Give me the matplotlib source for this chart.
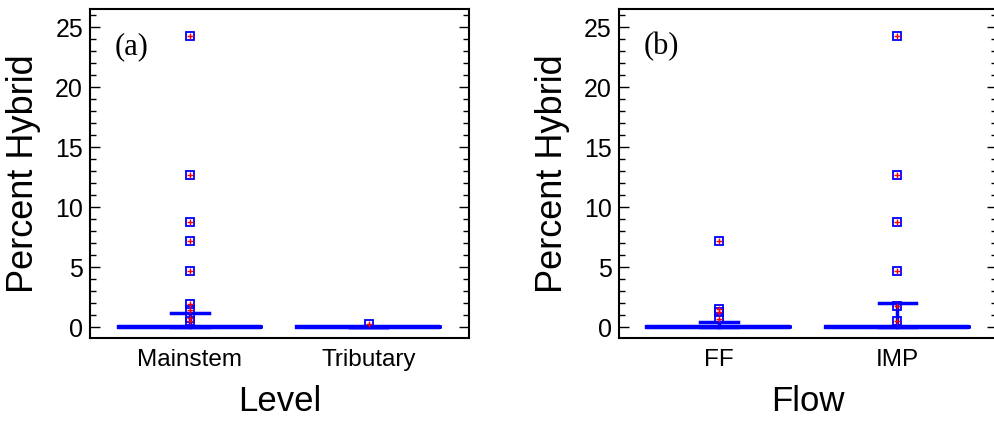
import matplotlib
matplotlib.use("Agg")
import matplotlib.pyplot as plt
from matplotlib.ticker import MultipleLocator

plt.rcParams['font.family'] = ['Liberation Sans', 'DejaVu Sans']

# panel (a): Level
level_names = ["Mainstem", "Tributary"]
level_caps = [1.15, 0.0]
level_fliers = [
    [24.3, 12.7, 8.8, 7.2, 4.7, 1.9, 1.45, 0.8, 0.5],
    [0.3],
]

# panel (b): Flow
flow_names = ["FF", "IMP"]
flow_caps = [0.4, 2.0]
flow_fliers = [
    [7.2, 1.5, 1.3, 0.7],
    [24.3, 12.7, 8.8, 4.7, 1.8, 0.5],
]


def draw_panel(ax, names, caps, fliers, xlabel, tag):
    stats = []
    for name, cap, fl in zip(names, caps, fliers):
        stats.append(dict(label=name, med=0.0, q1=0.0, q3=0.0,
                          whislo=0.0, whishi=cap, fliers=fl))
    bp = ax.bxp(stats, positions=[1, 2], widths=0.8, capwidths=0.21,
                boxprops=dict(color='blue', linewidth=3),
                medianprops=dict(color='blue', linewidth=3),
                whiskerprops=dict(color='blue', linewidth=2.5),
                capprops=dict(color='blue', linewidth=2.5),
                flierprops=dict(marker='s', markersize=5.5, markerfacecolor='none',
                                markeredgecolor='blue', markeredgewidth=1.3))
    # red crosses inside the outlier squares
    for fl_line in bp['fliers']:
        ax.plot(fl_line.get_xdata(), fl_line.get_ydata(), '+', color='red',
                markersize=4, markeredgewidth=1, zorder=5)

    ax.set_xlim(0.44, 2.56)
    ax.set_ylim(-0.9, 26.5)
    ax.yaxis.set_major_locator(MultipleLocator(5))
    ax.yaxis.set_minor_locator(MultipleLocator(1))
    ax.tick_params(axis='y', which='both', direction='in', right=True,
                   labelsize=18, pad=5)
    ax.tick_params(axis='y', which='major', length=7, width=1)
    ax.tick_params(axis='y', which='minor', length=4, width=1)
    ax.tick_params(axis='x', length=0, labelsize=17.5, pad=8)
    ax.set_ylabel("Percent Hybrid", fontsize=26, labelpad=10)
    ax.set_xlabel(xlabel, fontsize=25, labelpad=10)
    for sp in ax.spines.values():
        sp.set_linewidth(1.5)
    ax.text(0.066, 0.885, tag, transform=ax.transAxes, fontsize=22,
            family='Liberation Serif', va='center', ha='left')


fig = plt.figure(figsize=(9.94, 4.21), dpi=100)
ax1 = fig.add_axes([0.0905, 0.197, 0.381, 0.781])
ax2 = fig.add_axes([0.6225, 0.197, 0.381, 0.781])

draw_panel(ax1, level_names, level_caps, level_fliers, "Level", "(a)")
draw_panel(ax2, flow_names, flow_caps, flow_fliers, "Flow", "(b)")

fig.savefig("out.png", dpi=100)
